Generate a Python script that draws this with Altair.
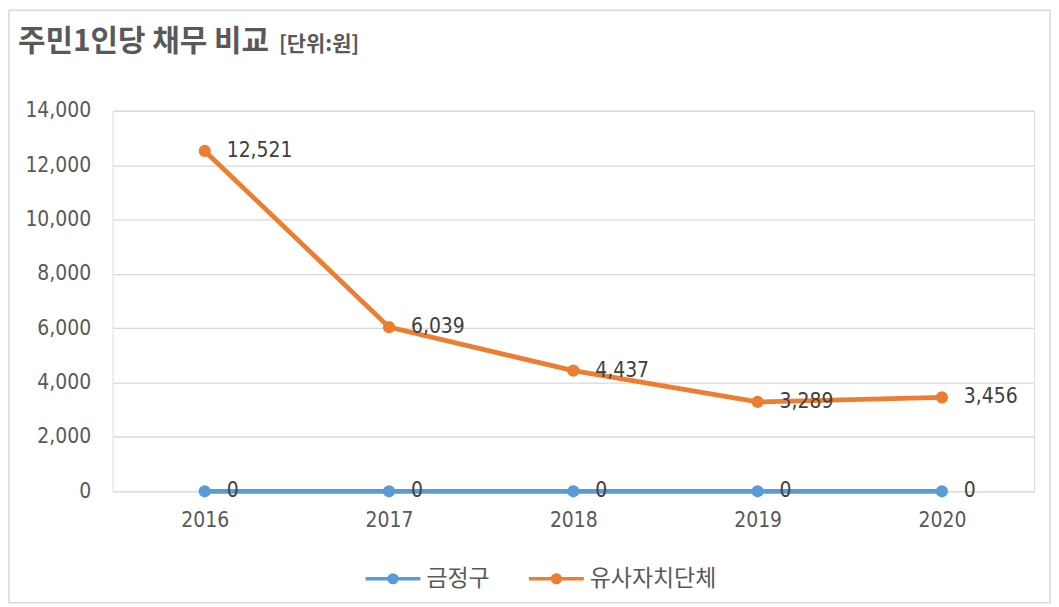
import altair as alt
import pandas as pd

years = ["2016", "2017", "2018", "2019", "2020"]
series_names = ["금정구", "유사자치단체"]
geumjeong = [0, 0, 0, 0, 0]
similar = [12521, 6039, 4437, 3289, 3456]
y_ticks = [0, 2000, 4000, 6000, 8000, 10000, 12000, 14000]
series_colors = ["#5B9BD5", "#ED7D31"]
title_main = "주민1인당 채무 비교"
title_unit = "[단위:원]"

df = pd.DataFrame({
    "year": years * 2,
    "series": [n for n in series_names for _ in years],
    "value": geumjeong + similar,
})

W, H = 925, 382
num_font = "DejaVu Sans Condensed, Liberation Sans Narrow, sans-serif"
kor_font = "Noto Sans CJK KR"

x = alt.X("year:O", scale=alt.Scale(type="point", padding=0.5),
          axis=alt.Axis(title=None, labelAngle=0, labelFont=num_font, labelFontSize=21,
                        labelColor="#595959", labelPadding=18, ticks=False, domain=False, grid=False))
y = alt.Y("value:Q", scale=alt.Scale(domain=[0, 14000], nice=False),
          axis=alt.Axis(title=None, values=y_ticks, format=",.0f", labelFont=num_font, labelFontSize=21,
                        labelColor="#595959", labelPadding=22, ticks=False, domain=False,
                        gridColor="#d9d9d9", gridWidth=1.3))
color = alt.Color("series:N", sort=series_names,
                  scale=alt.Scale(domain=series_names, range=series_colors),
                  legend=alt.Legend(title=None, orient="none", legendX=252, legendY=440,
                                    direction="horizontal",
                                    symbolType="M-1,0H1M-0.14,0A0.14,0.14,0,1,1,0.14,0A0.14,0.14,0,1,1,-0.14,0Z",
                                    symbolSize=3025, symbolStrokeWidth=3.5,
                                    labelFont=kor_font, labelFontSize=23, labelColor="#595959",
                                    labelOffset=4, columnPadding=32))

base = alt.Chart(df)
lines = base.mark_line(strokeWidth=4.8).encode(x=x, y=y, color=color)
points = base.mark_point(filled=True, size=150, opacity=1, shape="circle").encode(x=x, y=y, color=color)
labels = base.mark_text(align="left", baseline="middle", dx=22, font=num_font, fontSize=21,
                        color="#404040").encode(x=x, y=y, text=alt.Text("value:Q", format=",.0f"))

tdf = pd.DataFrame({"main": [title_main], "unit": [title_unit]})
t1 = alt.Chart(tdf).mark_text(align="left", baseline="middle", font=kor_font, fontSize=30,
                              fontWeight="bold", color="#595959").encode(
    text="main:N", x=alt.value(-95), y=alt.value(-69))
t2 = alt.Chart(tdf).mark_text(align="left", baseline="middle", font=kor_font, fontSize=21,
                              fontWeight="bold", color="#595959").encode(
    text="unit:N", x=alt.value(167), y=alt.value(-66))
border = alt.Chart(tdf).mark_rect(fill=None, stroke="#d9d9d9", strokeWidth=1.5).encode(
    x=alt.value(-104), x2=alt.value(W + 16), y=alt.value(-101), y2=alt.value(H + 112))

chart = alt.layer(border, lines, points, labels, t1, t2).properties(
    width=W, height=H,
    autosize=alt.AutoSizeParams(type="none"),
    padding={"left": 105, "top": 102, "right": 17, "bottom": 113},
).configure_view(stroke=None).configure(background="white")

chart.save("out.html", embed_options={"renderer": "svg", "actions": False})
